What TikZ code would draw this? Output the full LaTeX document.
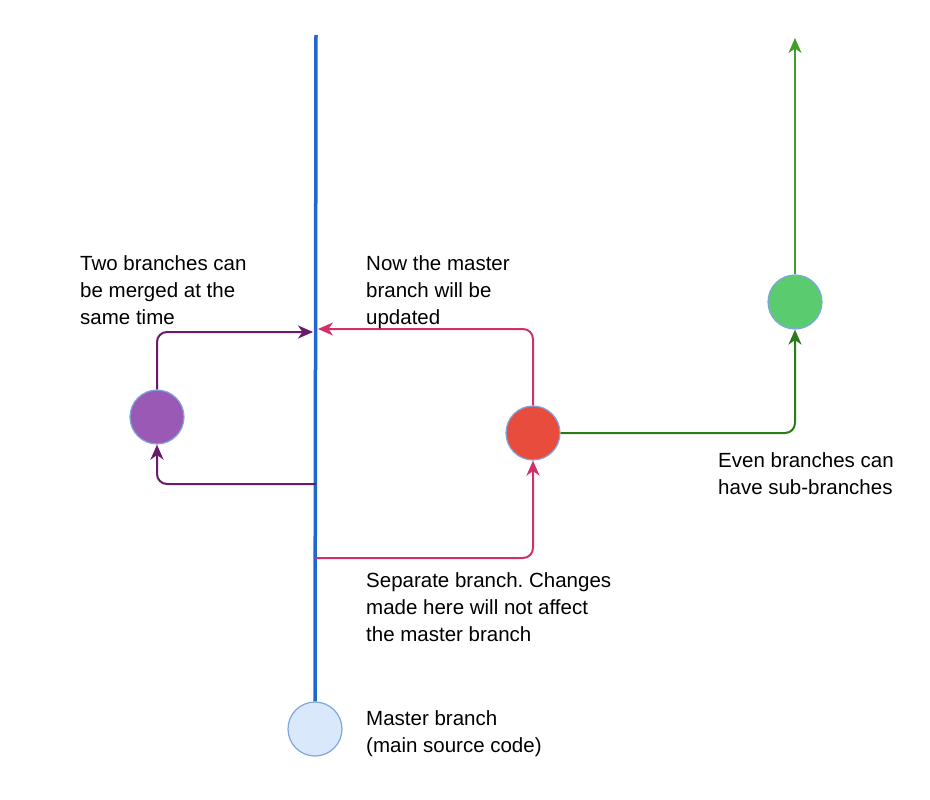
\documentclass[tikz,border=0pt]{standalone}
\usepackage{fontspec}
\setmainfont{Liberation Sans}
\usetikzlibrary{arrows.meta}
\frenchspacing
\definecolor{masterblue}{HTML}{2067D0}
\definecolor{pinkc}{HTML}{D3306B}
\definecolor{purplec}{HTML}{6A1A6B}
\definecolor{dgreen}{HTML}{2D7A1C}
\definecolor{bgreen}{HTML}{3D9E2B}
\definecolor{lbfill}{HTML}{DAE8FC}
\definecolor{lbstroke}{HTML}{7EA6E0}
\definecolor{purfill}{HTML}{9B59B6}
\definecolor{redfill}{HTML}{E74C3C}
\definecolor{grnfill}{HTML}{5BCB6F}
\begin{document}
\begin{tikzpicture}[x=1pt,y=-1pt,
  commit/.style={circle,minimum size=54pt,inner sep=0pt,draw=lbstroke,line width=1.2pt},
  conn/.style={line width=2pt,rounded corners=10pt,-{Stealth[length=15pt,width=13pt,inset=4.5pt]}},
  lbl/.style={font=\fontsize{20.5}{27}\selectfont,align=left,inner sep=0pt,anchor=base west}]
\useasboundingbox (0,0) rectangle (930,800);
% commits
\node[commit,fill=lbfill] (master) at (315,729) {};
\node[commit,fill=purfill] (pur) at (157,417) {};
\node[commit,fill=redfill] (red) at (533,433) {};
\node[commit,fill=grnfill] (grn) at (795,302) {};
% master line coordinates
\coordinate (mtop) at (316,35);
\coordinate (mpur) at (316,484);
\coordinate (mred) at (316,558);
\coordinate (purin) at (313,332);
\coordinate (redin) at (318,329);
\coordinate (gtop) at (795,38);
\draw[masterblue,line width=3.5pt] (master.north) -- (mtop);
% purple branch
\draw[conn,purplec] (mpur) -| (pur.south);
\draw[conn,purplec] (pur.north) |- (purin);
% red branch
\draw[conn,pinkc] (mred) -| (red.south);
\draw[conn,pinkc] (red.north) |- (redin);
% green sub-branch
\draw[conn,dgreen] (red.east) -| (grn.south);
\draw[conn,bgreen] (grn.north) -- (gtop);
% labels (anchor = baseline of the last line)
\node[lbl] (t1) at (80,324) {Two branches can\\be merged at the\\same time};
\node[lbl] (t2) at (366,324) {Now the master\\branch will be\\updated};
\node[lbl] (t3) at (718,494) {Even branches can\\have sub-branches};
\node[lbl] (t4) at (366,641) {Separate branch. Changes\\made here will not affect\\the master branch};
\node[lbl] (t5) at (366,752) {Master branch\\(main source code)};
\end{tikzpicture}
\end{document}
